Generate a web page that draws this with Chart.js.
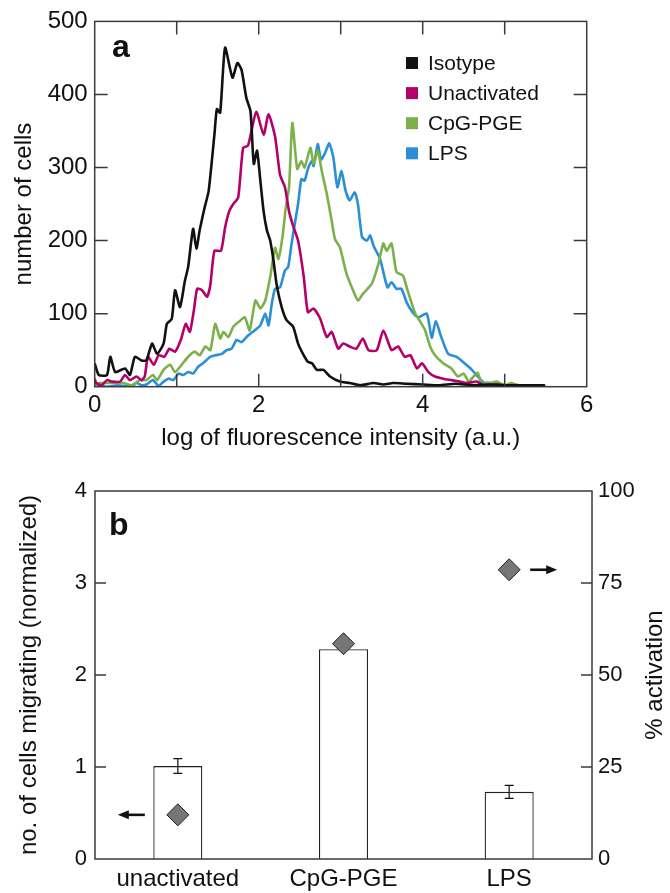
<!DOCTYPE html>
<html>
<head>
<meta charset="utf-8">
<script src="https://cdn.jsdelivr.net/npm/chart.js@4.4.1/dist/chart.umd.min.js"></script>
<style>
  html, body { margin: 0; padding: 0; background: #fff; }
  #wrap { position: relative; width: 670px; height: 893px; }
  .box { position: absolute; left: 0; width: 670px; }
  #boxA { top: 0; height: 460px; }
  #boxB { top: 460px; height: 433px; }
</style>
</head>
<body>
<div id="wrap">
  <div class="box" id="boxA"><canvas id="histChart"></canvas></div>
  <div class="box" id="boxB"><canvas id="migChart"></canvas></div>
</div>
<script>
// panel a: histograms (log fluorescence vs number of cells)
const isoLog = [0, 0.05, 0.15, 0.19, 0.25, 0.37, 0.43, 0.49, 0.57, 0.63, 0.70, 0.76, 0.84, 0.88, 0.94, 0.98, 1.04, 1.10, 1.14, 1.20, 1.24, 1.28, 1.34, 1.39, 1.46, 1.49, 1.53, 1.59, 1.68, 1.74, 1.79, 1.85, 1.90, 1.94, 1.98, 2.02, 2.06, 2.10, 2.14, 2.18, 2.22, 2.28, 2.34, 2.42, 2.48, 2.54, 2.60, 2.65, 2.71, 2.79, 2.87, 2.99, 3.11, 3.24, 3.40, 3.52, 3.64, 3.80, 4.00, 4.20, 4.40, 4.60, 4.80, 5.00, 5.20, 5.49];
const isoCount = [32, 16, 16, 41, 20, 25, 16, 41, 36, 36, 59, 45, 59, 86, 93, 132, 109, 145, 164, 216, 189, 214, 245, 268, 345, 380, 375, 464, 423, 443, 434, 395, 377, 305, 323, 282, 240, 214, 200, 173, 139, 109, 91, 82, 59, 45, 34, 32, 23, 23, 14, 7, 5, 2, 5, 3, 5, 4, 3, 2, 4, 2, 3, 2, 2, 2];

const unLog = [0, 0.02, 0.085, 0.15, 0.21, 0.31, 0.37, 0.43, 0.51, 0.57, 0.61, 0.65, 0.72, 0.78, 0.85, 0.91, 0.98, 1.05, 1.11, 1.16, 1.21, 1.25, 1.31, 1.37, 1.41, 1.46, 1.54, 1.59, 1.64, 1.69, 1.75, 1.81, 1.87, 1.97, 2.06, 2.12, 2.20, 2.26, 2.32, 2.37, 2.42, 2.48, 2.55, 2.60, 2.67, 2.75, 2.83, 2.89, 2.97, 3.03, 3.11, 3.19, 3.27, 3.34, 3.44, 3.52, 3.62, 3.70, 3.78, 3.85, 3.93, 3.99, 4.07, 4.15, 4.25, 4.35, 4.45, 4.54, 4.66, 4.74, 4.90, 5.10, 5.30, 5.49];
const unCount = [11, 5, 2, 9, 7, 7, 16, 9, 14, 9, 14, 41, 30, 43, 41, 52, 48, 64, 86, 75, 105, 134, 132, 123, 139, 186, 186, 218, 240, 250, 259, 327, 330, 376, 345, 373, 342, 290, 273, 240, 220, 200, 150, 102, 107, 93, 68, 75, 52, 59, 55, 52, 66, 50, 50, 77, 50, 55, 41, 43, 25, 32, 20, 14, 11, 9, 7, 5, 7, 2, 3, 1, 1, 0];

const cpgLog = [0, 0.06, 0.19, 0.35, 0.45, 0.55, 0.63, 0.71, 0.76, 0.84, 0.92, 0.98, 1.06, 1.14, 1.22, 1.28, 1.35, 1.41, 1.47, 1.53, 1.57, 1.63, 1.69, 1.77, 1.83, 1.89, 1.96, 2.02, 2.08, 2.14, 2.20, 2.24, 2.29, 2.33, 2.37, 2.41, 2.47, 2.52, 2.56, 2.63, 2.67, 2.72, 2.77, 2.83, 2.89, 2.93, 2.99, 3.07, 3.15, 3.21, 3.27, 3.38, 3.46, 3.52, 3.56, 3.62, 3.68, 3.76, 3.82, 3.91, 3.97, 4.03, 4.09, 4.15, 4.25, 4.35, 4.43, 4.50, 4.56, 4.62, 4.67, 4.72, 4.82, 4.90, 5.00, 5.08, 5.20, 5.50];
const cpgCount = [2, 5, 5, 5, 2, 9, 9, 16, 9, 23, 30, 20, 30, 41, 48, 43, 55, 50, 86, 66, 75, 68, 82, 90, 95, 77, 118, 107, 118, 150, 190, 175, 205, 245, 273, 361, 298, 309, 300, 327, 305, 323, 295, 264, 227, 202, 191, 155, 132, 118, 127, 141, 168, 196, 186, 196, 157, 152, 130, 100, 89, 77, 55, 43, 32, 25, 14, 18, 7, 14, 19, 5, 5, 7, 2, 5, 1, 1];

const lpsLog = [0, 0.15, 0.28, 0.45, 0.51, 0.57, 0.63, 0.71, 0.78, 0.84, 0.90, 0.96, 1.02, 1.08, 1.14, 1.20, 1.26, 1.32, 1.41, 1.47, 1.55, 1.61, 1.67, 1.73, 1.79, 1.87, 1.95, 2.02, 2.08, 2.12, 2.16, 2.20, 2.26, 2.32, 2.36, 2.40, 2.44, 2.48, 2.52, 2.56, 2.60, 2.65, 2.67, 2.72, 2.76, 2.81, 2.86, 2.91, 2.96, 3.01, 3.06, 3.11, 3.17, 3.21, 3.26, 3.32, 3.36, 3.40, 3.48, 3.57, 3.62, 3.68, 3.74, 3.81, 3.89, 3.95, 4.05, 4.11, 4.16, 4.22, 4.31, 4.41, 4.51, 4.60, 4.68, 4.74, 4.82, 5.00, 5.20, 5.50];
const lpsCount = [2, 0, 2, 0, 5, 2, 3, 9, 1, 7, 11, 9, 18, 16, 20, 18, 27, 32, 41, 43, 45, 50, 52, 64, 61, 70, 77, 84, 100, 84, 114, 134, 136, 159, 164, 195, 223, 250, 284, 282, 298, 309, 302, 332, 311, 320, 333, 314, 273, 295, 268, 255, 266, 250, 205, 200, 207, 193, 175, 136, 143, 134, 134, 114, 100, 95, 100, 67, 90, 70, 45, 41, 32, 23, 13, 6, 5, 2, 1, 0];

// panel b: migration bars + activation diamonds
const groups = ['unactivated', 'CpG-PGE', 'LPS'];
const migration = [1.01, 2.28, 0.73];
const migrationErr = [0.08, null, 0.07];
const activation = [12, 58.5, 78.6];
const arrowSide = ['left', null, 'right'];

const FONT = "'Liberation Sans', Arial, Helvetica, sans-serif";
const AXIS = '#3a3a3a';
const INK = '#111';

function series(xs, ys) {
    return xs.map((x, i) => ({ x: x, y: ys[i] }));
}

// frame, inward ticks, panel letter and legend for panel a
const histDecor = {
    id: 'histDecor',
    afterDatasetsDraw(chart) {
        const { ctx, chartArea: a, scales: { x, y } } = chart;
        ctx.save();
        ctx.strokeStyle = AXIS;
        ctx.lineWidth = 1.5;
        ctx.strokeRect(a.left, a.top, a.width, a.height);
        ctx.beginPath();
        x.ticks.forEach(t => {
            if (t.value <= x.min || t.value >= x.max) return;
            const px = x.getPixelForValue(t.value);
            ctx.moveTo(px, a.bottom); ctx.lineTo(px, a.bottom - 13);
            ctx.moveTo(px, a.top); ctx.lineTo(px, a.top + 13);
        });
        y.ticks.forEach(t => {
            if (t.value <= y.min || t.value >= y.max) return;
            const py = y.getPixelForValue(t.value);
            ctx.moveTo(a.left, py); ctx.lineTo(a.left + 13, py);
            ctx.moveTo(a.right, py); ctx.lineTo(a.right - 13, py);
        });
        ctx.stroke();

        ctx.fillStyle = INK;
        ctx.font = 'bold 32px ' + FONT;
        ctx.textBaseline = 'alphabetic';
        ctx.fillText('a', 112, 57);

        // legend
        ctx.font = '21px ' + FONT;
        ctx.textBaseline = 'middle';
        chart.data.datasets.forEach((ds, i) => {
            const cy = 63 + i * 30.1;
            ctx.fillStyle = ds.borderColor;
            ctx.fillRect(406, cy - 6, 12, 12);
            ctx.fillStyle = INK;
            ctx.fillText(ds.label, 428, cy + 1);
        });
        ctx.restore();
    }
};

new Chart(document.getElementById('histChart'), {
    type: 'line',
    data: {
        datasets: [
            { label: 'Isotype', data: series(isoLog, isoCount), borderColor: '#111111', order: 0 },
            { label: 'Unactivated', data: series(unLog, unCount), borderColor: '#b3006b', order: 1 },
            { label: 'CpG-PGE', data: series(cpgLog, cpgCount), borderColor: '#7bb04b', order: 2 },
            { label: 'LPS', data: series(lpsLog, lpsCount), borderColor: '#2a8fd6', order: 3 }
        ]
    },
    options: {
        responsive: true,
        maintainAspectRatio: false,
        animation: false,
        layout: { padding: { top: 20, right: 83.3, bottom: 0, left: 0 } },
        elements: {
            line: { borderWidth: 2.6, tension: 0.2, fill: false },
            point: { radius: 0 }
        },
        plugins: { legend: { display: false }, tooltip: { enabled: false } },
        scales: {
            x: {
                type: 'linear', min: 0, max: 6,
                grid: { display: false, drawTicks: false },
                border: { display: false },
                ticks: {
                    stepSize: 1, autoSkip: false, padding: 4, color: INK,
                    font: { family: FONT, size: 24 },
                    callback: v => (v % 2 === 0 ? String(v) : '')
                },
                title: {
                    display: true, text: 'log of fluorescence intensity (a.u.)', color: INK,
                    font: { family: FONT, size: 24 }, padding: { top: 0, bottom: 7 }
                },
                afterFit: s => { s.height = 73.3; }
            },
            y: {
                min: 0, max: 500,
                grid: { display: false, drawTicks: false },
                border: { display: false },
                ticks: { stepSize: 100, padding: 7, color: INK, font: { family: FONT, size: 24 } },
                title: {
                    display: true, text: 'number of cells', color: INK,
                    font: { family: FONT, size: 24 }, padding: { top: 10, bottom: 0 }
                },
                afterFit: s => { s.width = 94.7; }
            }
        }
    },
    plugins: [histDecor]
});

// frame, ticks, error bars, arrows and right title for panel b
const migDecor = {
    id: 'migDecor',
    afterDatasetsDraw(chart) {
        const { ctx, chartArea: a, scales: { y, y1 } } = chart;
        ctx.save();
        ctx.strokeStyle = AXIS;
        ctx.lineWidth = 1.5;
        ctx.strokeRect(a.left, a.top, a.width, a.height);
        ctx.beginPath();
        y.ticks.forEach(t => {
            if (t.value <= y.min || t.value >= y.max) return;
            const py = y.getPixelForValue(t.value);
            ctx.moveTo(a.left, py); ctx.lineTo(a.left + 11, py);
        });
        y1.ticks.forEach(t => {
            if (t.value <= y1.min || t.value >= y1.max) return;
            const py = y1.getPixelForValue(t.value);
            ctx.moveTo(a.right, py); ctx.lineTo(a.right - 11, py);
        });
        ctx.stroke();

        // error bars
        ctx.strokeStyle = INK;
        ctx.lineWidth = 1.2;
        chart.getDatasetMeta(0).data.forEach((bar, i) => {
            const e = migrationErr[i];
            if (e == null) return;
            const top = y.getPixelForValue(migration[i] + e);
            const bot = y.getPixelForValue(migration[i] - e);
            ctx.beginPath();
            ctx.moveTo(bar.x, top); ctx.lineTo(bar.x, bot);
            ctx.moveTo(bar.x - 4.5, top); ctx.lineTo(bar.x + 4.5, top);
            ctx.moveTo(bar.x - 4.5, bot); ctx.lineTo(bar.x + 4.5, bot);
            ctx.stroke();
        });

        // arrows pointing at the axis each diamond belongs to
        ctx.fillStyle = INK;
        ctx.strokeStyle = INK;
        ctx.lineWidth = 2.6;
        chart.getDatasetMeta(1).data.forEach((pt, i) => {
            const side = arrowSide[i];
            if (!side) return;
            const dir = side === 'left' ? -1 : 1;
            const gap = side === 'left' ? 33 : 21;
            const tail = pt.x + dir * gap;
            const tip = tail + dir * 27;
            ctx.beginPath();
            ctx.moveTo(tail, pt.y); ctx.lineTo(tip - dir * 8, pt.y);
            ctx.stroke();
            ctx.beginPath();
            ctx.moveTo(tip, pt.y);
            ctx.lineTo(tip - dir * 11, pt.y - 4.5);
            ctx.lineTo(tip - dir * 11, pt.y + 4.5);
            ctx.closePath();
            ctx.fill();
        });

        ctx.font = 'bold 32px ' + FONT;
        ctx.textBaseline = 'alphabetic';
        ctx.fillText('b', 109, 75);

        ctx.font = '24px ' + FONT;
        ctx.textAlign = 'center';
        ctx.textBaseline = 'middle';
        ctx.translate(655, (a.top + a.bottom) / 2);
        ctx.rotate(-Math.PI / 2);
        ctx.fillText('% activation', 0, 0);
        ctx.restore();
    }
};

new Chart(document.getElementById('migChart'), {
    type: 'bar',
    data: {
        labels: groups,
        datasets: [
            {
                type: 'bar', label: 'cells migrating', data: migration, yAxisID: 'y',
                backgroundColor: '#ffffff', borderColor: '#222222', borderWidth: 1.3,
                barPercentage: 0.296, categoryPercentage: 1, order: 2
            },
            {
                type: 'line', label: '% activation', data: activation, yAxisID: 'y1',
                showLine: false, pointStyle: 'rectRot', pointRadius: 11,
                pointBackgroundColor: '#767676', pointBorderColor: '#222222', pointBorderWidth: 1, order: 1
            }
        ]
    },
    options: {
        responsive: true,
        maintainAspectRatio: false,
        animation: false,
        layout: { padding: { top: 31, right: 0, bottom: 0, left: 0 } },
        plugins: { legend: { display: false }, tooltip: { enabled: false } },
        scales: {
            x: {
                grid: { display: false, drawTicks: false },
                border: { display: false },
                ticks: { padding: 6, color: INK, font: { family: FONT, size: 24 } },
                afterFit: s => { s.height = 34; }
            },
            y: {
                position: 'left', min: 0, max: 4,
                grid: { display: false, drawTicks: false },
                border: { display: false },
                ticks: { stepSize: 1, padding: 8, color: INK, font: { family: FONT, size: 22 } },
                title: {
                    display: true, text: 'no. of cells migrating (normalized)', color: INK,
                    font: { family: FONT, size: 24 }, padding: { top: 15, bottom: 0 }
                },
                afterFit: s => { s.width = 95; }
            },
            y1: {
                position: 'right', min: 0, max: 100,
                grid: { display: false, drawTicks: false },
                border: { display: false },
                ticks: { stepSize: 25, padding: 6, color: INK, font: { family: FONT, size: 22 } },
                afterFit: s => { s.width = 78; }
            }
        }
    },
    plugins: [migDecor]
});
</script>
</body>
</html>
